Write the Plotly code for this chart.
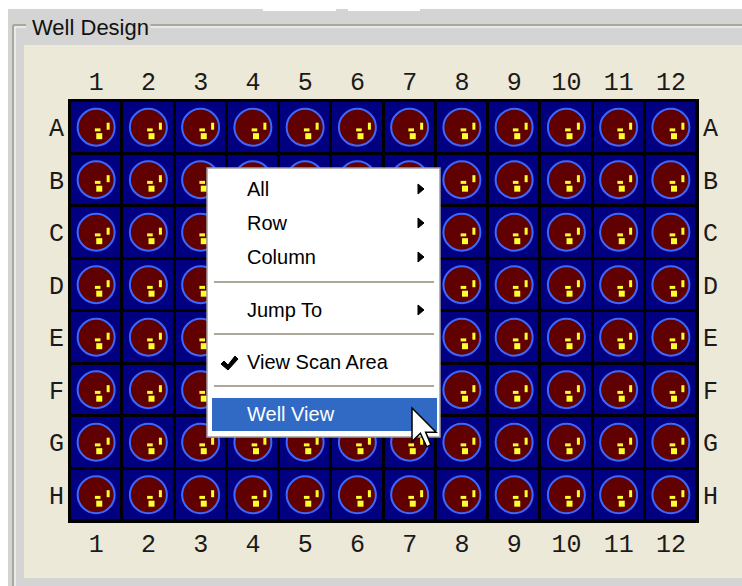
import plotly.graph_objects as go

# ---- data ----
col_labels = ["1", "2", "3", "4", "5", "6", "7", "8", "9", "10", "11", "12"]
row_labels = ["A", "B", "C", "D", "E", "F", "G", "H"]
well_state = [[1] * 12 for _ in range(8)]  # every well is filled
spot_dx = [0.23, 0.03, 0.06]   # yellow spot offsets inside a well (cell units)
spot_dy = [-0.02, 0.05, 0.17]
spot_symbol = ["line-ns", "line-ew", "square"]
spot_size = [5, 4, 6]
menu_items = ["All", "Row", "Column", "Jump To", "View Scan Area", "Well View"]
menu_item_y = [189, 223, 257, 310, 362, 414]
menu_submenu = [True, True, True, True, False, False]
menu_sep_y = [282, 334, 386]

W, H = 742, 586
def px(x): return x / W
def py(y): return 1 - y / H

cols = list(range(1, 13))
rows = list(range(1, 9))

fig = go.Figure()

# plate cells
fig.add_trace(go.Heatmap(
    z=well_state, x=cols, y=rows,
    colorscale=[[0, "#000080"], [1, "#000080"]], showscale=False,
    xgap=3, ygap=3, hoverinfo="skip"))

wx, wy = [], []
for r in rows:
    for c in cols:
        if well_state[r - 1][c - 1]:
            wx.append(c); wy.append(r)

fig.add_trace(go.Scatter(
    x=wx, y=wy, mode="markers", hoverinfo="skip",
    marker=dict(symbol="circle", size=37, color="#600000",
                line=dict(color="#3d68ff", width=2))))

for dx, dy, sym, s in zip(spot_dx, spot_dy, spot_symbol, spot_size):
    fig.add_trace(go.Scatter(
        x=[v + dx for v in wx], y=[v + dy for v in wy], mode="markers",
        hoverinfo="skip",
        marker=dict(symbol=sym, size=s, color="#ffff30",
                    line=dict(width=3 if sym.startswith("line") else 0,
                              color="#ffff30"))))

tickfont = dict(family="Liberation Mono", size=25, color="#1a1a1a")
ax_common = dict(range=[0.5, 12.5], tickvals=cols, ticktext=col_labels,
                 showgrid=False, zeroline=False, showline=False,
                 ticks="outside", tickcolor="rgba(0,0,0,0)", tickfont=tickfont,
                 domain=[px(70), px(697)], fixedrange=True)
fig.update_layout(
    xaxis=dict(**ax_common, side="bottom", ticklen=0, anchor="y"),
    xaxis2=dict(**ax_common, side="top", ticklen=0, overlaying="x", anchor="y"),
    yaxis=dict(range=[8.5, 0.5], tickvals=rows, ticktext=row_labels,
               showgrid=False, zeroline=False, showline=False, ticks="outside",
               ticklen=0, tickcolor="rgba(0,0,0,0)", tickfont=tickfont,
               domain=[py(521), py(101)], side="left", anchor="x", fixedrange=True),
    yaxis2=dict(range=[8.5, 0.5], tickvals=rows, ticktext=row_labels,
                showgrid=False, zeroline=False, showline=False, ticks="outside",
                ticklen=0, tickcolor="rgba(0,0,0,0)", tickfont=tickfont,
                side="right", overlaying="y", anchor="x", fixedrange=True),
)
# dummy trace to activate secondary axes
fig.add_trace(go.Scatter(x=[None], y=[None], xaxis="x2", yaxis="y2",
                         showlegend=False, hoverinfo="skip"))

shapes = []
def rect(x0, y0, x1, y1, fill, line=None, lw=0, layer="below"):
    shapes.append(dict(type="rect", xref="paper", yref="paper",
                       x0=px(x0), x1=px(x1), y0=py(y1), y1=py(y0),
                       fillcolor=fill, line=dict(color=line or fill, width=lw),
                       layer=layer))
def hline(x0, x1, y, color, lw=1, layer="below"):
    shapes.append(dict(type="line", xref="paper", yref="paper",
                       x0=px(x0), x1=px(x1), y0=py(y), y1=py(y),
                       line=dict(color=color, width=lw), layer=layer))
def vline(x, y0, y1, color, lw=1, layer="below"):
    shapes.append(dict(type="line", xref="paper", yref="paper",
                       x0=px(x), x1=px(x), y0=py(y0), y1=py(y1),
                       line=dict(color=color, width=lw), layer=layer))
def path(pts, fill, line, lw=1, layer="above"):
    d = "M " + " L ".join(f"{px(a):.5f},{py(b):.5f}" for a, b in pts) + " Z"
    shapes.append(dict(type="path", xref="paper", yref="paper", path=d,
                       fillcolor=fill, line=dict(color=line, width=lw), layer=layer))

# window background
rect(8, 9, 742, 586, "#d4d4d4")
rect(263, 9, 336, 11, "#ffffff")
rect(348, 9, 420, 11, "#ffffff")
# group box etched lines
hline(13, 26, 25, "#aca899", 2)
hline(148, 742, 25, "#aca899", 2)
hline(15, 26, 27, "#ffffff", 1)
hline(148, 742, 27, "#ffffff", 1)
vline(13, 25, 586, "#aca899", 2)
vline(15, 27, 586, "#ffffff", 1)
# beige panel
rect(24, 45, 742, 578, "#ece9d8")
# plate black frame
rect(68, 99, 699, 523, "#000000")

# context menu
rect(207, 168, 440, 437, "#ffffff", "#9d9d9d", 1.5, "above")
for y in menu_sep_y:
    hline(214, 434, y, "#aca899", 2, "above")
rect(212, 398, 437, 431, "#316ac5", layer="above")
for y, sub in zip(menu_item_y, menu_submenu):
    if sub:
        path([(418, y - 5), (424, y), (418, y + 5)], "#000000", "#000000", 1)
# check mark
path([(221, 364), (224, 361), (228, 365), (235, 356), (238, 359), (228, 370)],
     "#000000", "#000000", 1)
# mouse cursor
s = 2.1
cur = [(0, 0), (0, 16), (4, 12), (7, 18.5), (9, 17.5), (6.5, 11.5), (11.5, 11.5)]
path([(412 + s * a, 408 + s * b) for a, b in cur], "#ffffff", "#000000", 1.5)

annotations = [dict(text="Well Design", x=px(30), y=py(27), xref="paper", yref="paper",
                    xanchor="left", yanchor="middle", showarrow=False,
                    bgcolor="#d4d4d4",
                    font=dict(family="Liberation Sans", size=22, color="#111111"))]
for t, y in zip(menu_items, menu_item_y):
    annotations.append(dict(
        text=t, x=px(245), y=py(y), xref="paper", yref="paper",
        xanchor="left", yanchor="middle", showarrow=False,
        font=dict(family="Liberation Sans", size=20,
                  color="#ffffff" if t == "Well View" else "#000000")))

fig.update_layout(
    width=W, height=H, margin=dict(l=0, r=0, t=0, b=0),
    paper_bgcolor="#ffffff", plot_bgcolor="#000000",
    showlegend=False, shapes=shapes, annotations=annotations,
)
fig.write_html("out.html", config={"displayModeBar": False},
               post_script="document.body.style.margin='0';document.body.style.overflow='hidden';")
